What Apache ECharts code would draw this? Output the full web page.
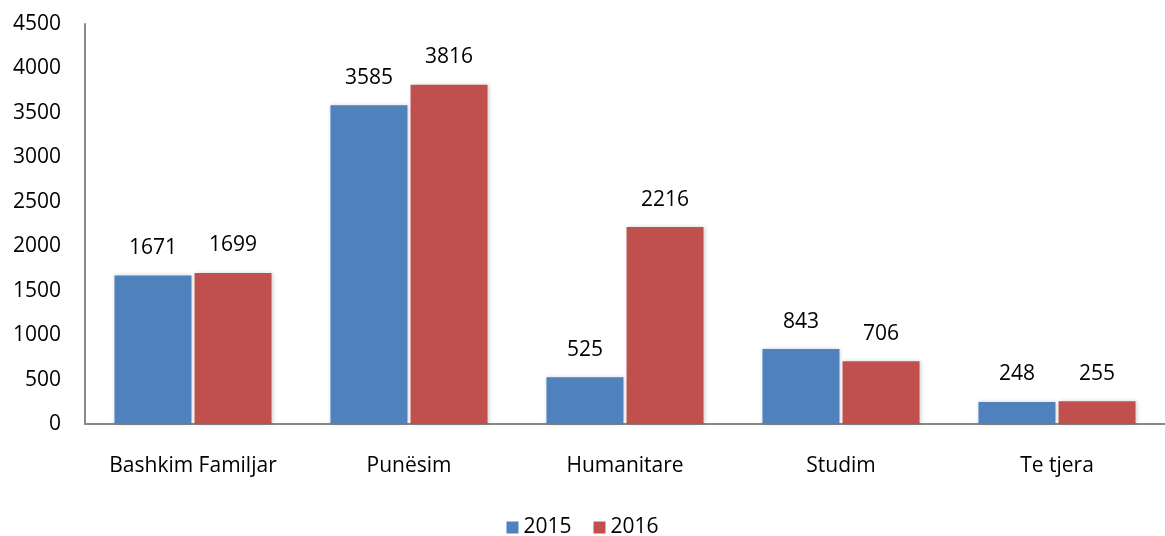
<!DOCTYPE html>
<html><head><meta charset="utf-8">
<script src="https://cdn.jsdelivr.net/npm/echarts@6/dist/echarts.min.js"></script>
<style>html,body{margin:0;padding:0;background:#fff}#c{width:1165px;height:536px}</style>
</head><body><div id="c"></div>
<script>
var categories = ["Bashkim Familjar", "Punësim", "Humanitare", "Studim", "Te tjera"];
var values2015 = [1671, 3585, 525, 843, 248];
var values2016 = [1699, 3816, 2216, 706, 255];
var seriesNames = ["2015", "2016"];
var font = "'Open Sans', sans-serif";
var chart = echarts.init(document.getElementById('c'));
function mk(name, data, color) {
  return {
    name: name, type: 'bar', data: data, barWidth: 77, barGap: '4%',
    itemStyle: {color: color, shadowColor: 'rgba(0,0,0,0.18)', shadowBlur: 4, shadowOffsetX: 1},
    label: {show: true, position: 'top', distance: 17, color: '#000', fontSize: 21, fontFamily: font}
  };
}
chart.setOption({
  animation: false,
  grid: {left: 85, right: 0, top: 24, bottom: 112, containLabel: false},
  legend: {bottom: -7, left: 'center', itemWidth: 12, itemHeight: 12, itemGap: 22, icon: 'rect',
    textStyle: {fontSize: 21, fontFamily: font, color: '#000'}},
  xAxis: {type: 'category', data: categories,
    axisLine: {lineStyle: {color: '#888', width: 2}}, axisTick: {show: false},
    axisLabel: {interval: 0, fontSize: 21, fontFamily: font, color: '#000', margin: 32}},
  yAxis: {type: 'value', min: 0, max: 4500, interval: 500,
    axisLine: {show: true, lineStyle: {color: '#888', width: 2}}, axisTick: {show: false},
    splitLine: {show: false},
    axisLabel: {fontSize: 21, fontFamily: font, color: '#000', margin: 24, formatter: function(v){return String(v);}}},
  series: [mk(seriesNames[0], values2015, '#4F81BD'), mk(seriesNames[1], values2016, '#C0504D')]
});
</script></body></html>
